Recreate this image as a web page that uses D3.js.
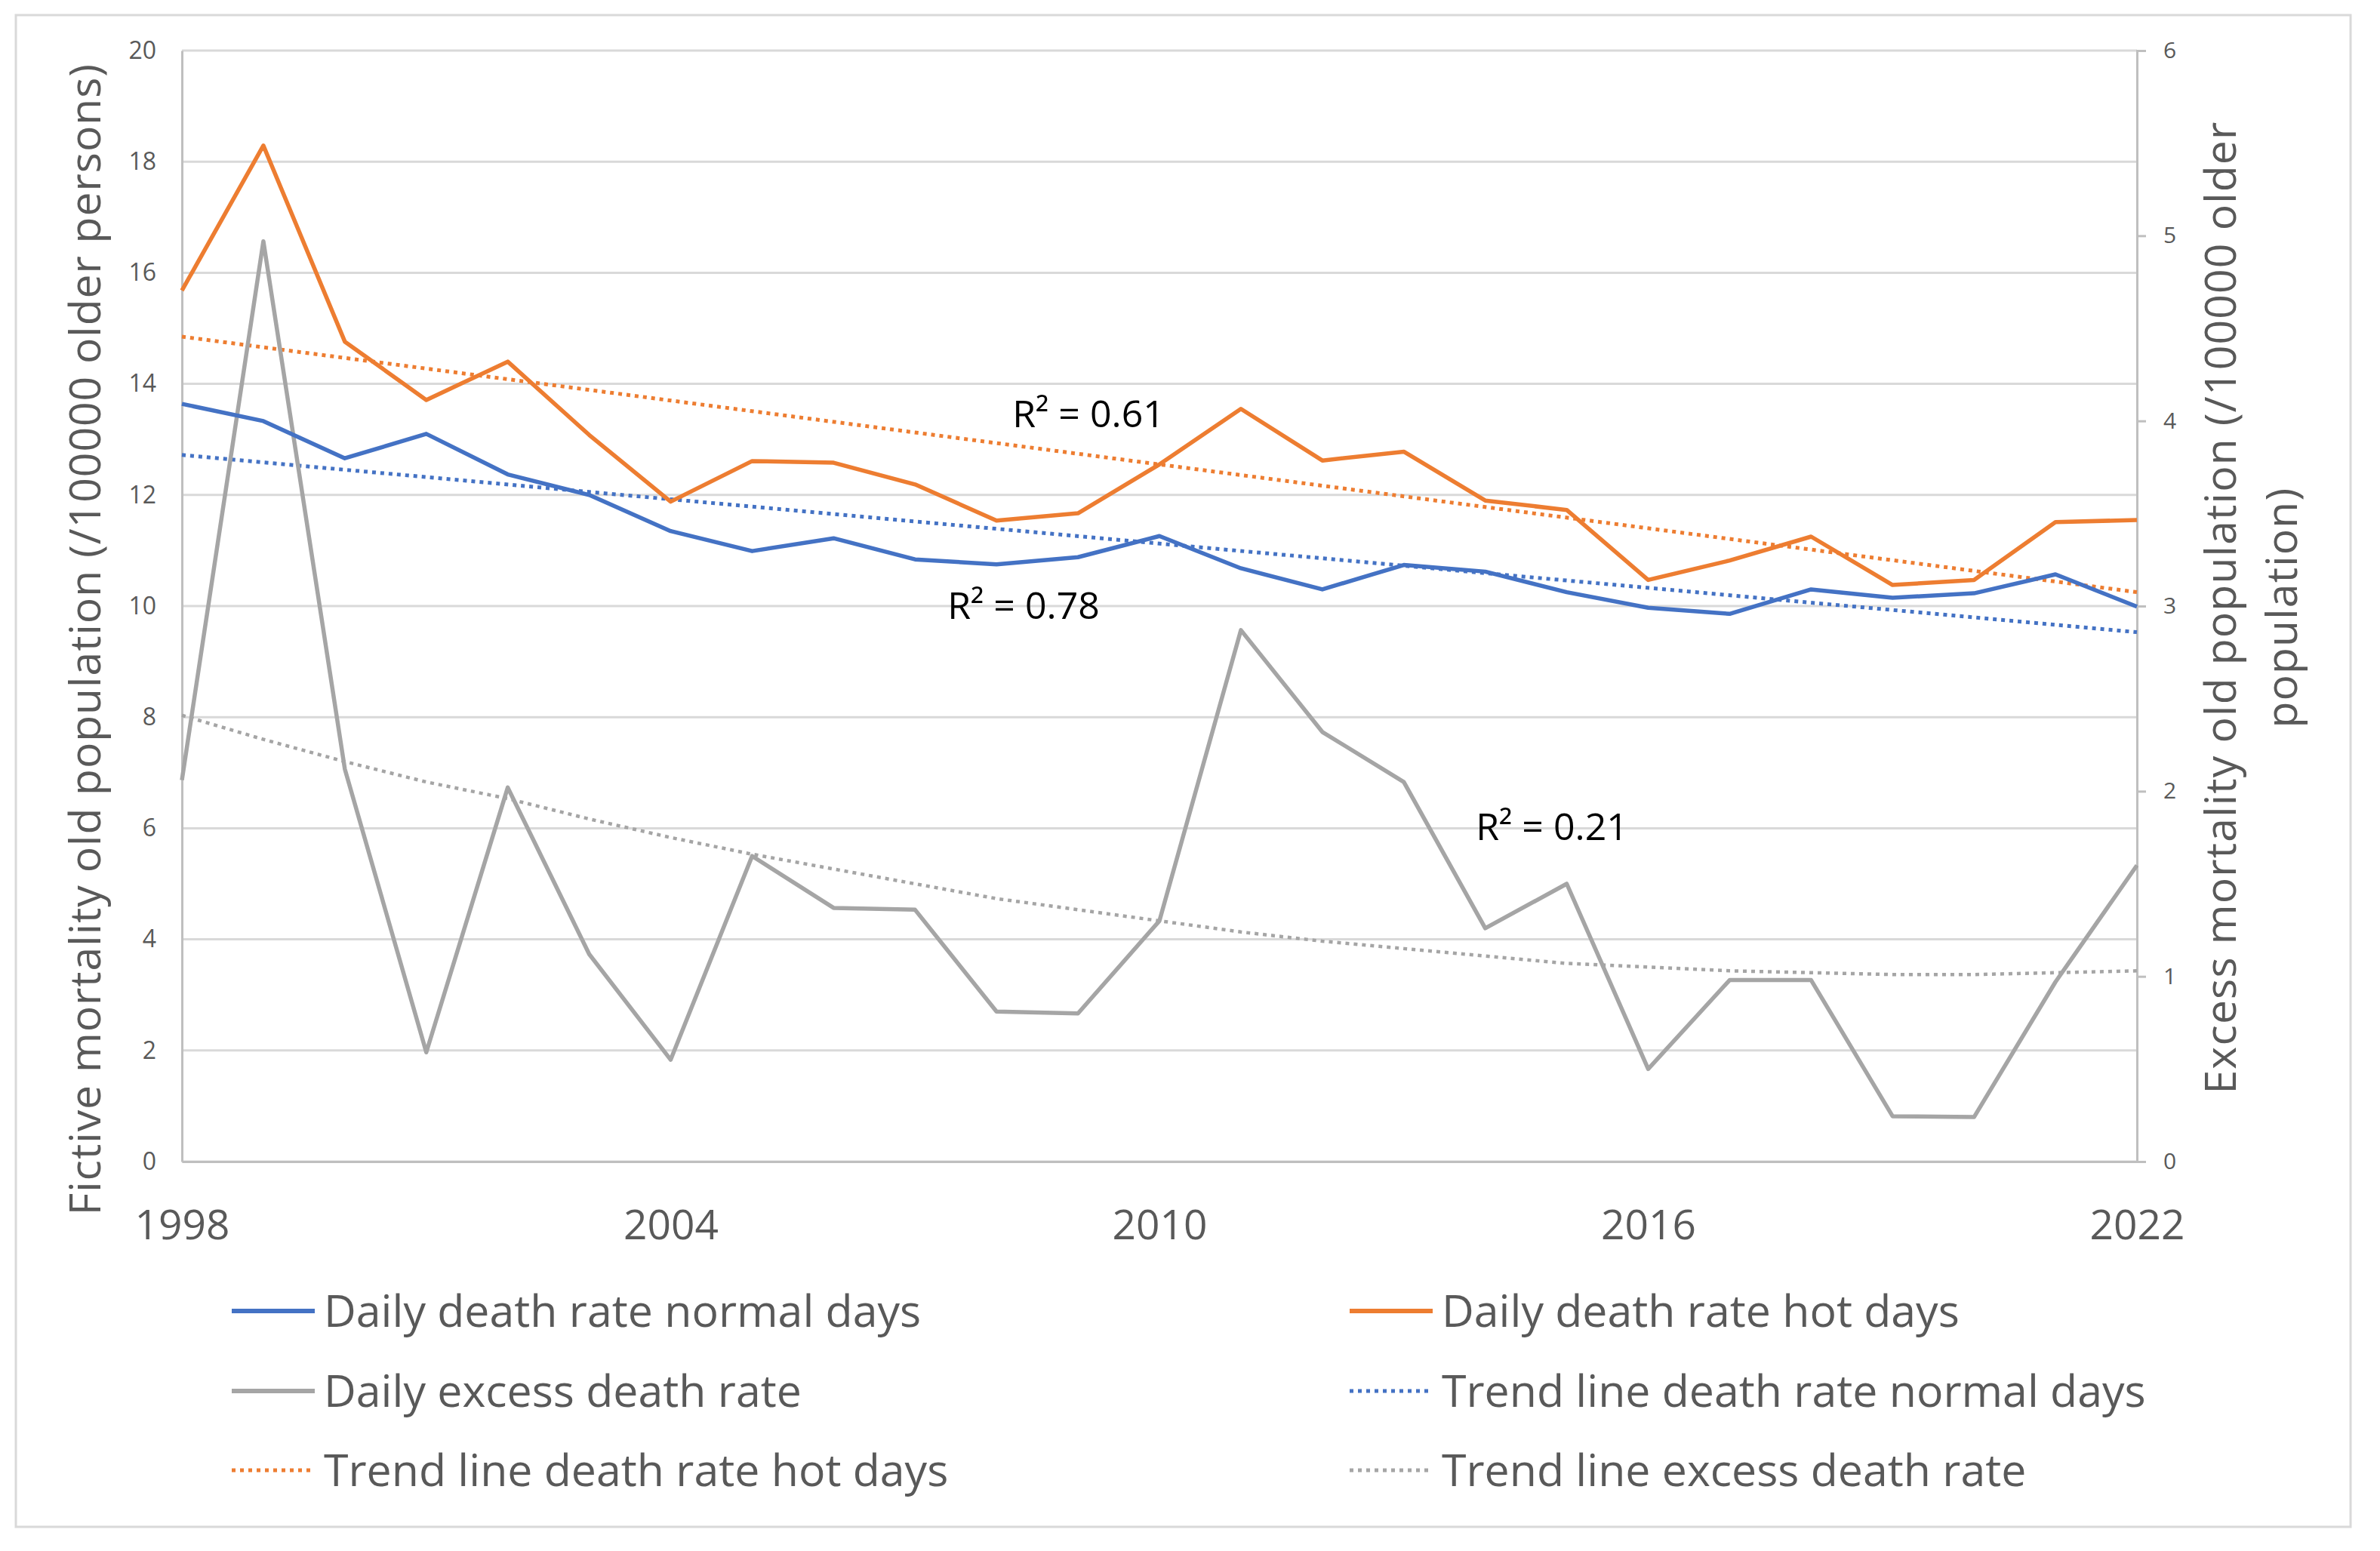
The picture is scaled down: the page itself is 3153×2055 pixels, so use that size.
<!DOCTYPE html>
<html>
<head>
<meta charset="utf-8">
<script src="https://cdn.jsdelivr.net/npm/d3@7"></script>
<style>
    body { margin: 0; background: #ffffff; }
    text { font-family: 'Open Sans', 'Noto Sans', sans-serif; }
</style>
</head>
<body>
<div id="chart"></div>
<script>
// values
const years = [1998, 1999, 2000, 2001, 2002, 2003, 2004, 2005, 2006, 2007, 2008, 2009, 2010,
    2011, 2012, 2013, 2014, 2015, 2016, 2017, 2018, 2019, 2020, 2021, 2022];
const normalDays = [13.64, 13.33, 12.66, 13.1, 12.37, 12.0, 11.35, 10.99, 11.22, 10.84, 10.75, 10.88, 11.26,
    10.68, 10.3, 10.74, 10.62, 10.25, 9.97, 9.86, 10.3, 10.15, 10.23, 10.57, 9.99];
const hotDays = [15.68, 18.29, 14.76, 13.71, 14.4, 13.08, 11.88, 12.61, 12.58, 12.19, 11.54, 11.67, 12.55,
    13.55, 12.62, 12.78, 11.9, 11.73, 10.47, 10.82, 11.25, 10.38, 10.47, 11.51, 11.55];
const excessDeaths = [2.06, 4.97, 2.12, 0.59, 2.02, 1.12, 0.55, 1.65, 1.37, 1.36, 0.81, 0.8, 1.3,
    2.87, 2.32, 2.05, 1.26, 1.5, 0.5, 0.98, 0.98, 0.245, 0.24, 0.97, 1.6];
const trendYears = [1998, 2022];
const trendNormal = [12.72, 9.53];
const trendHot = [14.85, 10.25];
const trendExcess = [2.41, 2.28, 2.16, 2.05, 1.96, 1.85, 1.75, 1.66, 1.58, 1.5, 1.42, 1.36, 1.3,
    1.24, 1.19, 1.15, 1.11, 1.07, 1.05, 1.03, 1.02, 1.01, 1.01, 1.02, 1.03];
const leftTicks = [0, 2, 4, 6, 8, 10, 12, 14, 16, 18, 20];
const rightTicks = [0, 1, 2, 3, 4, 5, 6];
const xTickLabels = [1998, 2004, 2010, 2016, 2022];
const rSquaredLabels = ['R² = 0.61', 'R² = 0.78', 'R² = 0.21'];

const BLUE = '#4472C4', ORANGE = '#ED7D31', GRAY = '#A5A5A5', TEXT = '#595959';

function init() {
    const width = 3153, height = 2055;
    const left = 241, right = 2831, top = 67, bottom = 1539;

    const svg = d3.select('#chart')
        .append('svg')
        .attr('width', width)
        .attr('height', height);

    svg.append('rect')
        .attr('width', width).attr('height', height)
        .attr('fill', '#ffffff');

    // chart border
    svg.append('rect')
        .attr('x', 21).attr('y', 20)
        .attr('width', 3093).attr('height', 2003)
        .attr('fill', 'none')
        .attr('stroke', '#D9D9D9')
        .attr('stroke-width', 3);

    const xScale = d3.scaleLinear().domain([1998, 2022]).range([left, right]);
    const yLeft = d3.scaleLinear().domain([0, 20]).range([bottom, top]);
    const yRight = d3.scaleLinear().domain([0, 6]).range([bottom, top]);

    // gridlines
    svg.append('g')
        .selectAll('line')
        .data(leftTicks)
        .join('line')
        .attr('x1', left).attr('x2', right)
        .attr('y1', d => yLeft(d)).attr('y2', d => yLeft(d))
        .attr('stroke', '#D9D9D9')
        .attr('stroke-width', 3);

    // left axis
    const axisL = svg.append('g')
        .attr('transform', `translate(${left}, 0)`)
        .call(d3.axisLeft(yLeft).tickValues(leftTicks).tickSize(0).tickPadding(34));
    axisL.select('.domain').attr('stroke', '#BFBFBF').attr('stroke-width', 3);
    axisL.selectAll('.tick line').remove();
    axisL.selectAll('text')
        .style('font-size', '32px')
        .attr('fill', TEXT);

    // right axis
    const axisR = svg.append('g')
        .attr('transform', `translate(${right}, 0)`)
        .call(d3.axisRight(yRight).tickValues(rightTicks).tickFormat(d3.format('d'))
            .tickSizeOuter(0).tickSize(12).tickPadding(23));
    axisR.select('.domain').attr('stroke', '#BFBFBF').attr('stroke-width', 3);
    axisR.selectAll('.tick line').attr('stroke', '#BFBFBF').attr('stroke-width', 3);
    axisR.selectAll('text')
        .style('font-size', '30px')
        .attr('fill', TEXT);

    // bottom axis
    const axisB = svg.append('g')
        .attr('transform', `translate(0, ${bottom})`)
        .call(d3.axisBottom(xScale).tickValues(xTickLabels).tickFormat(d3.format('d')).tickSize(0));
    axisB.select('.domain').attr('stroke', '#BFBFBF').attr('stroke-width', 3);
    axisB.selectAll('.tick line').remove();
    axisB.selectAll('text')
        .attr('y', 103)
        .attr('dy', 0)
        .style('font-size', '55px')
        .attr('fill', TEXT);

    // trend lines first, data lines on top
    const lineL = d3.line().x((d, i) => xScale(years[i])).y(d => yLeft(d));
    const lineR = d3.line().x((d, i) => xScale(years[i])).y(d => yRight(d));
    const trendLineL = d3.line().x((d, i) => xScale(trendYears[i])).y(d => yLeft(d));

    const dotted = (path, color, w) => path
        .attr('fill', 'none')
        .attr('stroke', color)
        .attr('stroke-width', w)
        .attr('stroke-dasharray', '5 6');

    dotted(svg.append('path').attr('d', trendLineL(trendHot)), ORANGE, 5);
    dotted(svg.append('path').attr('d', trendLineL(trendNormal)), BLUE, 5);
    dotted(svg.append('path').attr('d', lineR(trendExcess)), GRAY, 4.5);

    const solid = (path, color) => path
        .attr('fill', 'none')
        .attr('stroke', color)
        .attr('stroke-width', 5.5)
        .attr('stroke-linejoin', 'round');

    solid(svg.append('path').attr('d', lineR(excessDeaths)), GRAY);
    solid(svg.append('path').attr('d', lineL(normalDays)), BLUE);
    solid(svg.append('path').attr('d', lineL(hotDays)), ORANGE);

    // R² labels
    const rPos = [[1442, 566], [1356, 820], [2056, 1113]];
    svg.append('g')
        .selectAll('text')
        .data(rSquaredLabels)
        .join('text')
        .attr('x', (d, i) => rPos[i][0])
        .attr('y', (d, i) => rPos[i][1])
        .attr('text-anchor', 'middle')
        .style('font-size', '50px')
        .attr('fill', '#000000')
        .text(d => d);

    // axis titles
    svg.append('text')
        .attr('transform', 'translate(133, 847) rotate(-90)')
        .attr('text-anchor', 'middle')
        .style('font-size', '57px')
        .style('letter-spacing', '1px')
        .attr('fill', TEXT)
        .text('Fictive mortality old population (/100000 older persons)');

    const rightTitle = ['Excess mortality old population (/100000 older', 'population)'];
    svg.append('g')
        .selectAll('text')
        .data(rightTitle)
        .join('text')
        .attr('transform', (d, i) => `translate(${2962 + i * 81}, 805) rotate(-90)`)
        .attr('text-anchor', 'middle')
        .style('font-size', '57px')
        .style('letter-spacing', '1.2px')
        .attr('fill', TEXT)
        .text(d => d);

    // legend
    const legendItems = [
        { label: 'Daily death rate normal days', color: BLUE, dash: null },
        { label: 'Daily excess death rate', color: GRAY, dash: null },
        { label: 'Trend line death rate hot days', color: ORANGE, dash: '5 6' },
        { label: 'Daily death rate hot days', color: ORANGE, dash: null },
        { label: 'Trend line death rate normal days', color: BLUE, dash: '5 6' },
        { label: 'Trend line excess death rate', color: GRAY, dash: '5 6' }
    ];
    const colX = [307, 1788];
    const rowY = [1737, 1843, 1948];

    const legend = svg.append('g')
        .selectAll('g')
        .data(legendItems)
        .join('g')
        .attr('transform', (d, i) => `translate(${colX[Math.floor(i / 3)]}, ${rowY[i % 3]})`);

    legend.append('line')
        .attr('x1', 0).attr('x2', d => d.dash ? 104 : 110)
        .attr('y1', 0).attr('y2', 0)
        .attr('stroke', d => d.color)
        .attr('stroke-width', d => d.dash ? 5 : 6)
        .attr('stroke-dasharray', d => d.dash);

    legend.append('text')
        .attr('x', 122)
        .attr('y', 21)
        .style('font-size', '59px')
        .attr('fill', TEXT)
        .text(d => d.label);
}

window.onload = init;
</script>
</body>
</html>
